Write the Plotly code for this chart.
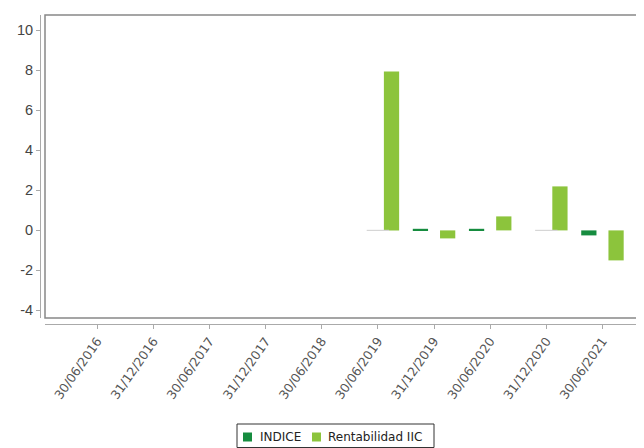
import plotly.graph_objects as go

categories = ["30/06/2016", "31/12/2016", "30/06/2017", "31/12/2017", "30/06/2018",
              "30/06/2019", "31/12/2019", "30/06/2020", "31/12/2020", "30/06/2021"]
indice = [None, None, None, None, None, 0.0, 0.08, 0.08, 0.0, -0.25]
rentabilidad = [None, None, None, None, None, 7.95, -0.4, 0.7, 2.2, -1.5]
y_ticks = [-4, -2, 0, 2, 4, 6, 8, 10]
series_names = ["INDICE", "Rentabilidad IIC"]

DARK = "#168c3f"
LIGHT = "#8cc43c"

OFF = 8  # page body margin
W, H = 644 - OFF, 448 - OFF
ml, mr, mt = 40 - OFF, 0, 15 - OFF
ph = 324 - 15
mb = H - mt - ph
pw = W - ml - mr
x0d = 5 / pw
y0d = 6 / ph


def px_x(p):
    return (p - 40) / pw


def px_y(p):
    return (324 - p) / ph


fig = go.Figure()
fig.add_trace(go.Bar(x=categories, y=indice, name=series_names[0], marker_color=DARK,
                     marker_line_width=0, showlegend=False))
fig.add_trace(go.Bar(x=categories, y=rentabilidad, name=series_names[1], marker_color=LIGHT,
                     marker_line_width=0, showlegend=False))

# zero-valued INDICE entries drawn as faint lines at zero
zx = [c for c, v in zip(categories, indice) if v == 0]
zy = [0 for c, v in zip(categories, indice) if v == 0]
fig.add_trace(go.Scatter(x=zx, y=zy, mode="markers", showlegend=False, hoverinfo="skip",
                         marker=dict(symbol="line-ew", size=16, color="rgba(0,0,0,0)",
                                     line=dict(color="#d6d6d6", width=1.2))))

shapes = [dict(type="path", xref="paper", yref="paper",
               path=f"M 1.1,1 L {x0d},1 L {x0d},{y0d} L 1.1,{y0d}",
               line=dict(color="#888", width=1.5))]
# custom compact legend
shapes.append(dict(type="rect", xref="paper", yref="paper",
                   x0=px_x(237), x1=px_x(434), y0=px_y(424), y1=px_y(447.5),
                   line=dict(color="#333", width=1), fillcolor="white", layer="below"))
annotations = []
for sx, tx, col, name in [(243, 258, DARK, series_names[0]), (312, 326, LIGHT, series_names[1])]:
    shapes.append(dict(type="rect", xref="paper", yref="paper",
                       x0=px_x(sx), x1=px_x(sx + 9), y0=px_y(432.5), y1=px_y(441.5),
                       line=dict(width=0), fillcolor=col))
    annotations.append(dict(xref="paper", yref="paper", x=px_x(tx), y=px_y(437),
                            xanchor="left", yanchor="middle", showarrow=False, text=name,
                            font=dict(family="DejaVu Sans, sans-serif", size=12, color="#222")))

fig.update_layout(
    width=W, height=H,
    margin=dict(l=ml, r=mr, t=mt, b=mb, autoexpand=False),
    paper_bgcolor="white", plot_bgcolor="white",
    barmode="group", bargap=0.03, bargroupgap=0.44,
    font=dict(family="Liberation Sans, Arial, sans-serif", color="#444"),
    showlegend=False,
    xaxis=dict(type="category", domain=[x0d, 1], range=[-0.93, 9.74],
               anchor="free", position=0, automargin=False,
               showline=True, linecolor="#aaa", linewidth=1,
               ticks="outside", ticklen=4, tickcolor="#aaa",
               tickangle=-55, tickfont=dict(family="DejaVu Sans, sans-serif", size=12.5, color="#555"),
               showgrid=False, zeroline=False),
    yaxis=dict(domain=[y0d, 1], range=[-4.38, 10.77], anchor="free", position=0,
               automargin=False,
               tickvals=y_ticks, ticktext=[str(v) for v in y_ticks],
               showline=True, linecolor="#aaa", linewidth=1,
               ticks="outside", ticklen=4, tickcolor="#aaa",
               tickfont=dict(size=14.5, color="#444"),
               showgrid=False, zeroline=False),
    shapes=shapes,
    annotations=annotations,
)

fig.write_html("out.html")
